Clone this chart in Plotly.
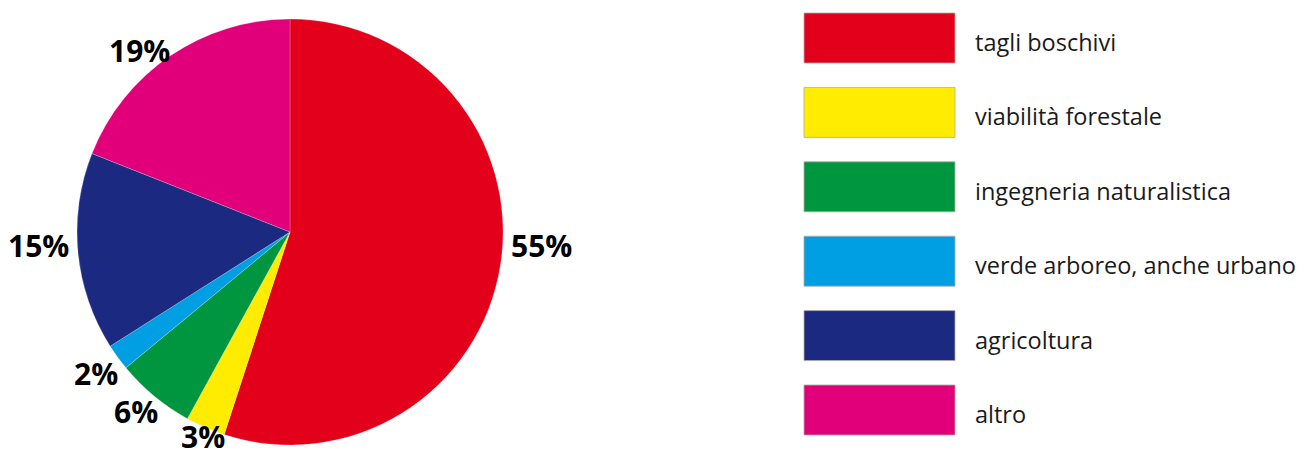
import math
import plotly.graph_objects as go

# Ripartizione percentuale degli interventi
categorie = [
    "tagli boschivi",
    "viabilità forestale",
    "ingegneria naturalistica",
    "verde arboreo, anche urbano",
    "agricoltura",
    "altro",
]
percentuali = [55, 3, 6, 2, 15, 19]
colori = ["#E3001B", "#FFEC00", "#00963F", "#009FE3", "#1B2A80", "#E2007A"]

# small angular shifts (degrees) applied to the percentage labels
spostamento_etichette = [-6, -1.5, 1, 0, 2.4, -5.5]

W, H = 1298, 459
FONT = "Open Sans"
LABEL_SIZE = 30


def px_x(x):
    return x / W


def px_y(y):
    return 1 - y / H


# pie geometry in pixels
cx, cy, r = 290, 232, 213

fig = go.Figure(
    go.Pie(
        labels=categorie,
        values=percentuali,
        sort=False,
        direction="clockwise",
        rotation=0,
        marker=dict(colors=colori, line=dict(color="rgba(255,255,255,0.35)", width=0.6)),
        textinfo="none",
        showlegend=False,
        hoverinfo="label+percent",
        domain=dict(x=[px_x(cx - r), px_x(cx + r)], y=[px_y(cy + r), px_y(cy - r)]),
    )
)

annotations = []

# percentage labels just outside each slice, at the slice's mid angle
totale = sum(percentuali)
cumul = 0
gap = 9
for val, nudge in zip(percentuali, spostamento_etichette):
    mid = (cumul + val / 2) / totale * 360 + nudge
    cumul += val
    th = math.radians(mid)
    dx, dy = math.sin(th), -math.cos(th)
    testo = f"{val}%"
    half_w = (0.57 * (len(testo) - 1) + 0.88) * LABEL_SIZE / 2
    half_h = 0.36 * LABEL_SIZE
    t = min(half_w / abs(dx) if abs(dx) > 1e-6 else 1e9,
            half_h / abs(dy) if abs(dy) > 1e-6 else 1e9)
    dist = r + gap + t
    lx, ly = cx + dx * dist, cy + dy * dist
    # keep the whole text box inside the page
    ly = min(ly, H - 0.72 * LABEL_SIZE - 1)
    annotations.append(
        dict(
            xref="paper",
            yref="paper",
            x=px_x(lx),
            y=px_y(ly),
            xanchor="center",
            yanchor="middle",
            text=f"<b>{testo}</b>",
            showarrow=False,
            font=dict(family=FONT, size=LABEL_SIZE, color="#000000"),
        )
    )

# legend drawn as large colour swatches with labels
shapes = []
top0, step, sw_h = 13, 74.4, 50
for i, (nome, col) in enumerate(zip(categorie, colori)):
    top = top0 + i * step
    shapes.append(
        dict(
            type="rect",
            xref="paper",
            yref="paper",
            x0=px_x(804),
            x1=px_x(955),
            y0=px_y(top + sw_h),
            y1=px_y(top),
            fillcolor=col,
            line=dict(color="rgba(180,170,170,0.8)", width=1),
        )
    )
    annotations.append(
        dict(
            xref="paper",
            yref="paper",
            x=px_x(973),
            y=px_y(top + sw_h / 2 + 4),
            xanchor="left",
            yanchor="middle",
            text=nome,
            showarrow=False,
            font=dict(family=FONT, size=23.5, color="#1a1a1a"),
        )
    )

fig.update_layout(
    width=W,
    height=H,
    margin=dict(l=0, r=0, t=0, b=0),
    paper_bgcolor="white",
    plot_bgcolor="white",
    shapes=shapes,
    annotations=annotations,
)

fig.write_html("out.html")
